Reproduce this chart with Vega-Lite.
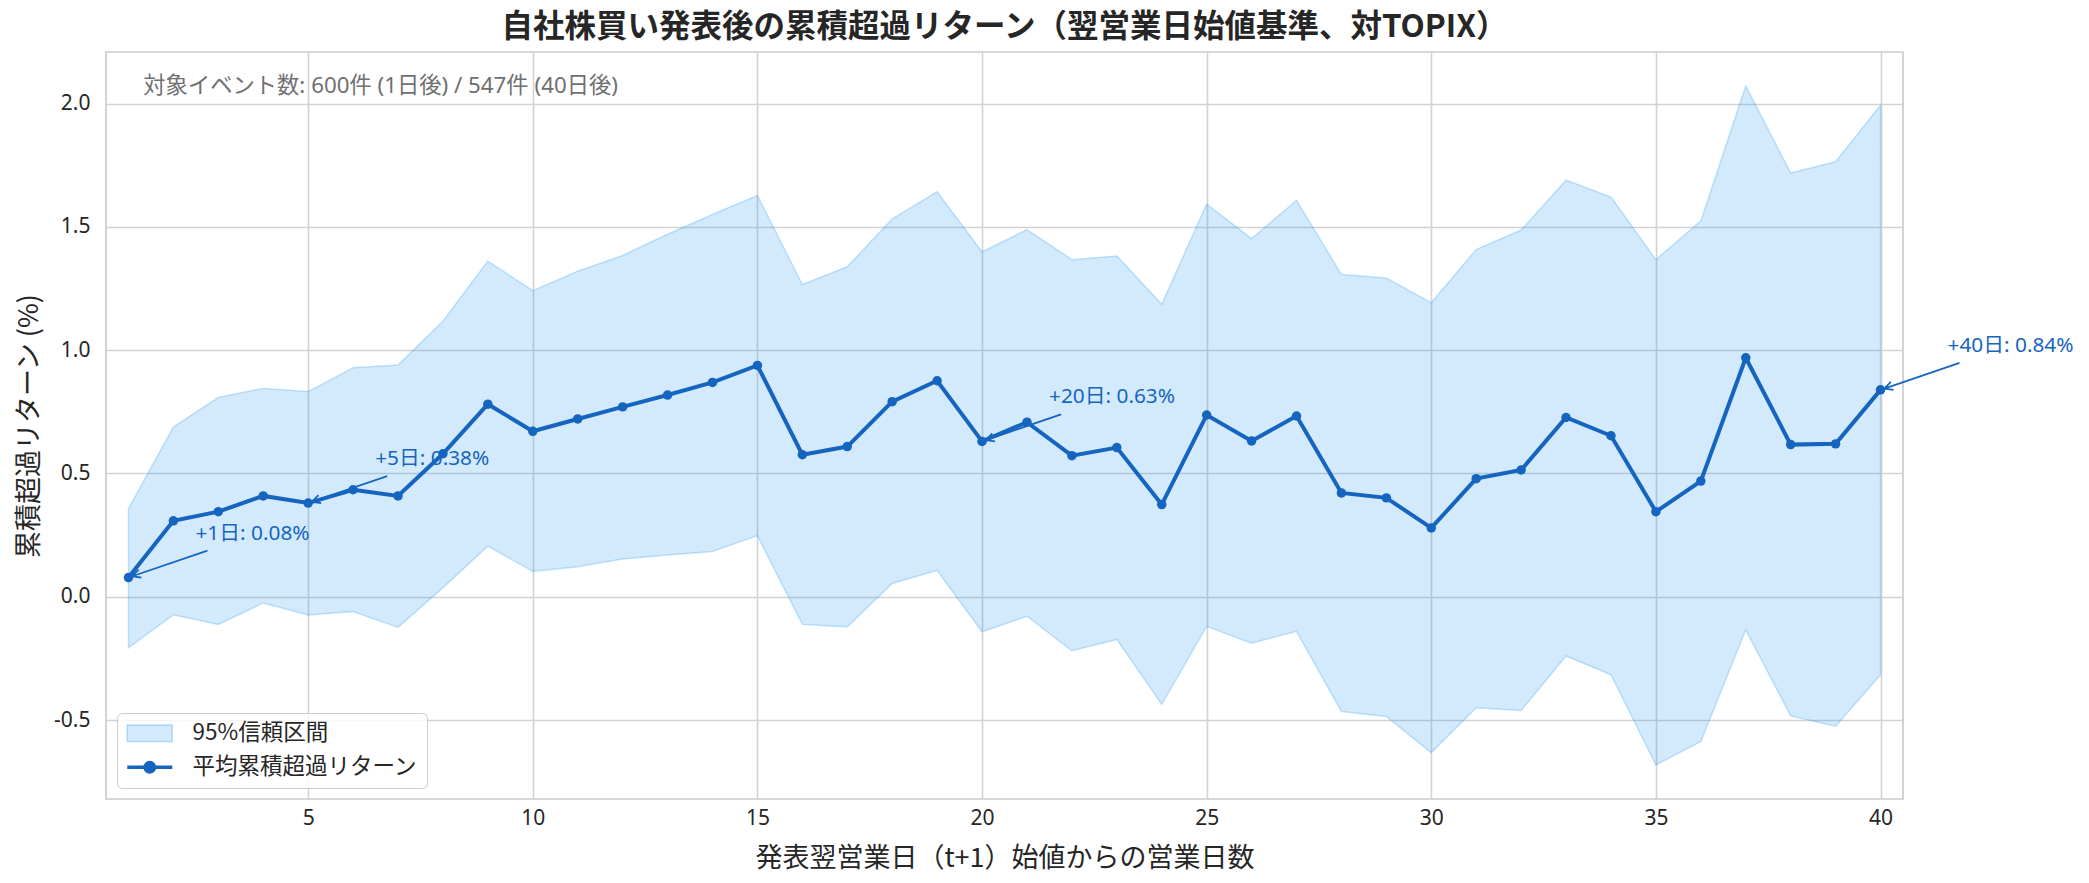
{
  "$schema": "https://vega.github.io/schema/vega-lite/v6.json",
  "width": 1797,
  "height": 747,
  "autosize": {"type": "none"},
  "padding": {"left": 106, "top": 52, "right": 186, "bottom": 84},
  "background": "white",
  "title": {
    "text": "自社株買い発表後の累積超過リターン（翌営業日始値基準、対TOPIX）",
    "fontSize": 31.5,
    "fontWeight": "bold",
    "font": "Noto Sans CJK JP",
    "color": "#262626",
    "anchor": "middle",
    "offset": 9
  },
  "config": {
    "view": {"stroke": "#cccccc", "strokeWidth": 1.7},
    "font": "Noto Sans CJK JP",
    "axis": {
      "gridColor": "#d2d2d2",
      "gridWidth": 1.6,
      "domain": false,
      "ticks": false,
      "labelFont": "Noto Sans, Noto Sans CJK JP",
      "labelFontSize": 21,
      "labelColor": "#262626",
      "titleFont": "Noto Sans CJK JP",
      "titleFontSize": 27,
      "titleFontWeight": "normal",
      "titleColor": "#262626"
    },
    "legend": {
      "orient": "bottom-left",
      "offset": 11,
      "padding": 9,
      "cornerRadius": 5,
      "strokeColor": "#cccccc",
      "fillColor": "rgba(255,255,255,0.8)",
      "labelFont": "Noto Sans CJK JP",
      "labelFontSize": 22.5,
      "labelColor": "#262626",
      "labelLimit": 0,
      "symbolSize": 400,
      "symbolStrokeWidth": 1.5,
      "labelOffset": 44,
      "rowPadding": 10
    }
  },
  "datasets": {
    "main": [
      {"day": 1, "mean": 0.078, "upper": 0.357, "lower": -0.207},
      {"day": 2, "mean": 0.308, "upper": 0.688, "lower": -0.073},
      {"day": 3, "mean": 0.345, "upper": 0.808, "lower": -0.112},
      {"day": 4, "mean": 0.409, "upper": 0.845, "lower": -0.025},
      {"day": 5, "mean": 0.38, "upper": 0.832, "lower": -0.074},
      {"day": 6, "mean": 0.434, "upper": 0.929, "lower": -0.06},
      {"day": 7, "mean": 0.409, "upper": 0.94, "lower": -0.124},
      {"day": 8, "mean": 0.58, "upper": 1.117, "lower": 0.037},
      {"day": 9, "mean": 0.781, "upper": 1.361, "lower": 0.205},
      {"day": 10, "mean": 0.671, "upper": 1.241, "lower": 0.103},
      {"day": 11, "mean": 0.721, "upper": 1.32, "lower": 0.122},
      {"day": 12, "mean": 0.77, "upper": 1.384, "lower": 0.153},
      {"day": 13, "mean": 0.818, "upper": 1.47, "lower": 0.169},
      {"day": 14, "mean": 0.869, "upper": 1.55, "lower": 0.184},
      {"day": 15, "mean": 0.938, "upper": 1.627, "lower": 0.248},
      {"day": 16, "mean": 0.576, "upper": 1.266, "lower": -0.112},
      {"day": 17, "mean": 0.609, "upper": 1.338, "lower": -0.122},
      {"day": 18, "mean": 0.791, "upper": 1.532, "lower": 0.054},
      {"day": 19, "mean": 0.876, "upper": 1.642, "lower": 0.107},
      {"day": 20, "mean": 0.63, "upper": 1.398, "lower": -0.142},
      {"day": 21, "mean": 0.708, "upper": 1.489, "lower": -0.079},
      {"day": 22, "mean": 0.572, "upper": 1.367, "lower": -0.219},
      {"day": 23, "mean": 0.605, "upper": 1.382, "lower": -0.173},
      {"day": 24, "mean": 0.374, "upper": 1.186, "lower": -0.436},
      {"day": 25, "mean": 0.737, "upper": 1.592, "lower": -0.12},
      {"day": 26, "mean": 0.632, "upper": 1.452, "lower": -0.188},
      {"day": 27, "mean": 0.733, "upper": 1.607, "lower": -0.14},
      {"day": 28, "mean": 0.421, "upper": 1.307, "lower": -0.465},
      {"day": 29, "mean": 0.401, "upper": 1.293, "lower": -0.485},
      {"day": 30, "mean": 0.279, "upper": 1.192, "lower": -0.632},
      {"day": 31, "mean": 0.479, "upper": 1.408, "lower": -0.45},
      {"day": 32, "mean": 0.514, "upper": 1.487, "lower": -0.461},
      {"day": 33, "mean": 0.727, "upper": 1.689, "lower": -0.24},
      {"day": 34, "mean": 0.653, "upper": 1.621, "lower": -0.316},
      {"day": 35, "mean": 0.345, "upper": 1.367, "lower": -0.682},
      {"day": 36, "mean": 0.469, "upper": 1.524, "lower": -0.587},
      {"day": 37, "mean": 0.969, "upper": 2.071, "lower": -0.134},
      {"day": 38, "mean": 0.617, "upper": 1.718, "lower": -0.483},
      {"day": 39, "mean": 0.62, "upper": 1.764, "lower": -0.525},
      {"day": 40, "mean": 0.839, "upper": 1.993, "lower": -0.316}
    ],
    "ann": [
      {"day": 1, "mean": 0.078, "label": "+1日: 0.08%"},
      {"day": 5, "mean": 0.38, "label": "+5日: 0.38%"},
      {"day": 20, "mean": 0.63, "label": "+20日: 0.63%"},
      {"day": 40, "mean": 0.839, "label": "+40日: 0.84%"}
    ]
  },
  "layer": [
    {
      "data": {"name": "main"},
      "mark": {"type": "area", "fillOpacity": 0.2, "stroke": "#2196F3", "strokeOpacity": 0.25, "strokeWidth": 1.5},
      "encoding": {
        "x": {
          "field": "day",
          "type": "quantitative",
          "scale": {"domain": [0.5, 40.5], "nice": false, "zero": false},
          "axis": {
            "values": [5, 10, 15, 20, 25, 30, 35, 40],
            "title": "発表翌営業日（t+1）始値からの営業日数",
            "labelPadding": 8,
            "titlePadding": 17
          }
        },
        "y": {
          "field": "upper",
          "type": "quantitative",
          "scale": {"domain": [-0.82, 2.209], "nice": false, "zero": false},
          "axis": {
            "values": [-0.5, 0, 0.5, 1, 1.5, 2],
            "labelExpr": "replace(format(datum.value, '.1f'), '−', '-')",
            "title": "累積超過リターン (%)",
            "labelPadding": 16,
            "titlePadding": 10
          }
        },
        "y2": {"field": "lower"},
        "color": {
          "datum": "95%信頼区間",
          "type": "nominal",
          "scale": {"domain": ["95%信頼区間", "平均累積超過リターン"], "range": ["#2196F3", "#1565C0"]},
          "legend": {
            "title": null,
            "encode": {
              "symbols": {
                "update": {
                  "shape": {"signal": "datum.value === '95%信頼区間' ? 'M-1,-0.83H3.5V0.83H-1Z' : 'M-1,0H3.5M0.78,0A0.47,0.47,0,1,0,1.72,0A0.47,0.47,0,1,0,0.78,0Z'"},
                  "strokeWidth": {"signal": "datum.value === '95%信頼区間' ? 1.5 : 3.5"},
                  "opacity": {"value": 1},
                  "fillOpacity": {"signal": "datum.value === '95%信頼区間' ? 0.2 : 1"},
                  "strokeOpacity": {"signal": "datum.value === '95%信頼区間' ? 0.3 : 1"}
                }
              }
            }
          }
        }
      }
    },
    {
      "mark": {"type": "rule", "color": "#9e9e9e", "strokeWidth": 1.7},
      "encoding": {"y": {"datum": 0}}
    },
    {
      "data": {"values": [{"note": "対象イベント数: 600件 (1日後) / 547件 (40日後)"}]},
      "mark": {"type": "text", "align": "left", "baseline": "middle", "fontSize": 22.3, "color": "#707070", "font": "Noto Sans, Noto Sans CJK JP"},
      "encoding": {
        "x": {"datum": 1.33},
        "y": {"datum": 2.07},
        "text": {"field": "note"}
      }
    },
    {
      "data": {"name": "ann"},
      "mark": {"type": "text", "align": "left", "baseline": "middle", "dx": 67, "dy": -44, "fontSize": 20.8, "color": "#1565C0", "font": "Noto Sans, Noto Sans CJK JP"},
      "encoding": {
        "x": {"field": "day", "type": "quantitative"},
        "y": {"field": "mean", "type": "quantitative"},
        "text": {"field": "label"}
      }
    },
    {
      "data": {"name": "ann"},
      "mark": {"type": "point", "shape": "M3.8,-1.3L79,-27M13,0L3.8,-1.3L10.3,-7.95", "size": 4, "filled": false, "stroke": "#1565C0", "strokeWidth": 1.8, "opacity": 1},
      "encoding": {
        "x": {"field": "day", "type": "quantitative"},
        "y": {"field": "mean", "type": "quantitative"}
      }
    },
    {
      "data": {"name": "main"},
      "mark": {"type": "line", "strokeWidth": 4, "point": {"filled": true, "size": 90, "opacity": 1}},
      "encoding": {
        "x": {"field": "day", "type": "quantitative"},
        "y": {"field": "mean", "type": "quantitative"},
        "color": {
          "datum": "平均累積超過リターン",
          "type": "nominal",
          "legend": {
            "title": null,
            "encode": {
              "symbols": {
                "update": {
                  "shape": {"signal": "datum.value === '95%信頼区間' ? 'M-1,-0.83H3.5V0.83H-1Z' : 'M-1,0H3.5M0.78,0A0.47,0.47,0,1,0,1.72,0A0.47,0.47,0,1,0,0.78,0Z'"},
                  "strokeWidth": {"signal": "datum.value === '95%信頼区間' ? 1.5 : 3.5"},
                  "opacity": {"value": 1},
                  "fillOpacity": {"signal": "datum.value === '95%信頼区間' ? 0.2 : 1"},
                  "strokeOpacity": {"signal": "datum.value === '95%信頼区間' ? 0.3 : 1"}
                }
              }
            }
          }
        }
      }
    }
  ]
}
